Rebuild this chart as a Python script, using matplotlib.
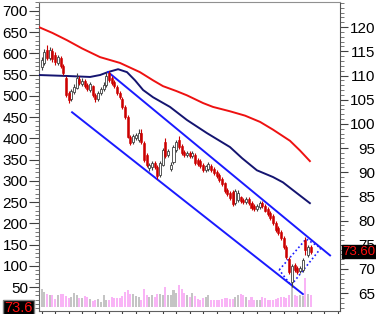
import matplotlib
matplotlib.use("Agg")
import matplotlib.pyplot as plt
import numpy as np
from matplotlib.ticker import MultipleLocator
import matplotlib.transforms as mtrans

plt.rcParams['font.family'] = ['Liberation Sans', 'DejaVu Sans']

# ---------------- data ----------------
opens = [111.7,112.6,115.2,113.6,115.0,114.2,112.6,113.6,112.0,109.5,
         106.4,105.1,106.6,107.4,109.2,108.2,108.8,108.0,107.0,107.8,
         106.0,105.1,106.4,107.2,108.0,110.5,109.4,108.6,107.6,106.4,
         105.1,103.5,101.4,97.3,96.2,97.0,96.6,98.1,96.0,93.5,
         90.8,91.0,91.9,91.0,89.4,91.5,96.2,93.5,90.6,92.1,
         94.6,96.6,95.4,94.2,93.5,94.0,93.3,93.5,92.5,92.3,
         91.5,90.4,90.6,91.3,90.6,90.0,89.4,88.6,87.7,86.3,
         85.7,85.9,83.6,84.2,84.8,84.2,83.8,84.4,83.6,83.0,
         82.4,82.8,83.6,83.0,82.4,81.5,80.9,79.5,78.4,77.6,
         76.4,74.5,72.0,67.3,70.8,70.2,69.5,69.8,76.0,72.8,74.5]
highs = [113.8,115.4,116.3,115.9,115.6,114.8,114.2,114.0,112.4,109.8,
         106.8,107.2,108.2,110.5,110.0,109.4,109.2,108.4,108.6,108.0,
         106.4,106.8,107.6,108.6,110.8,111.0,109.8,109.0,108.0,106.8,
         105.5,103.9,101.8,97.7,97.9,98.1,98.9,98.9,96.4,94.0,
         91.9,92.3,92.3,91.4,92.3,95.0,97.0,94.8,92.1,95.6,
         96.6,97.5,95.8,94.6,94.4,94.4,94.4,93.9,92.9,92.7,
         91.9,91.5,92.1,91.7,91.0,90.4,89.8,89.0,88.0,86.7,
         86.1,86.3,86.5,86.3,85.1,84.6,84.8,84.8,84.0,83.4,
         83.4,84.0,84.0,83.4,82.8,81.9,81.3,79.9,78.8,78.0,
         76.8,74.9,72.4,71.0,71.2,70.6,70.6,72.2,76.6,74.9,74.9]
lows = [111.2,112.2,113.2,113.2,112.8,112.2,112.2,111.5,110.1,105.5,
        104.3,104.7,106.2,107.2,108.0,107.8,107.4,106.8,106.6,105.5,
        104.5,104.7,106.0,106.8,107.6,108.6,108.0,107.4,106.0,105.1,
        103.1,101.0,97.0,95.6,95.8,96.6,96.2,95.8,92.1,91.0,
        90.2,90.4,90.6,88.6,89.0,91.2,92.9,93.1,90.2,91.7,
        94.2,94.8,93.5,93.1,93.1,92.9,92.9,91.5,91.3,90.8,
        90.0,90.0,90.2,90.0,89.4,88.8,88.0,87.1,85.7,85.1,
        84.2,83.0,83.2,83.8,83.6,83.4,83.4,83.2,82.2,82.0,
        82.0,82.4,82.6,81.7,80.9,80.1,79.1,77.6,77.0,76.0,
        74.1,72.0,68.9,66.2,69.4,68.9,69.1,69.4,72.8,72.4,73.0]
closes = [113.2,114.8,113.6,115.2,113.4,112.8,113.8,111.9,110.5,105.9,
          104.9,106.8,107.6,109.5,108.4,108.8,107.8,107.2,108.2,105.9,
          105.1,106.4,107.2,108.0,110.0,109.0,108.4,107.8,106.4,105.5,
          103.5,101.4,97.3,96.0,97.5,97.7,98.1,96.2,92.5,91.5,
          91.5,91.9,91.0,89.2,91.9,94.6,93.3,94.4,91.5,95.2,
          96.2,95.2,93.9,93.5,94.0,93.3,93.9,91.9,91.7,91.3,
          90.4,91.2,91.7,90.4,89.8,89.2,88.4,87.5,86.1,85.5,
          84.6,83.4,86.1,85.7,84.0,83.8,84.4,83.6,82.6,82.4,
          83.0,83.6,83.0,82.0,81.3,80.5,79.5,78.0,77.4,76.4,
          74.5,72.4,69.3,70.6,69.8,69.3,70.2,71.8,74.0,74.5,73.6]
volume = [18,15,13,12,12,8,12,13,13,11,
          9,10,14,12,9,9,11,10,8,6,
          7,8,5,12,7,7,10,9,9,9,
          11,15,17,13,13,11,10,7,18,12,
          10,12,10,13,13,12,20,12,12,17,
          14,22,18,14,12,10,14,11,8,7,
          9,10,12,7,7,7,7,8,9,9,
          8,8,10,12,13,12,10,7,10,7,
          7,7,10,9,7,7,7,8,9,10,
          10,9,12,24,12,11,12,11,29,13,12]

# moving averages (index, price) read at sample points
ma_long_x = [-1.0, 4.0, 9.4, 15.0, 21.7, 29.1, 36.5, 41.4, 45.1, 50.0,
             54.0, 60.0, 63.7, 70.0, 75.6, 81.2, 86.0, 92.3, 96.0, 99.7]
ma_long_y = [120.0, 118.8, 117.3, 115.6, 113.8, 112.6, 110.7, 109.0, 107.8, 106.8,
             105.9, 104.3, 103.5, 102.6, 101.7, 100.4, 98.8, 96.5, 94.5, 92.3]
ma_short_x = [-1.0, 9.4, 18.0, 21.7, 24.6, 28.4, 31.7, 34.7, 37.7, 41.4,
              47.7, 54.0, 61.4, 70.0, 74.5, 80.0, 86.0, 89.7, 93.4, 99.7]
ma_short_y = [110.1, 109.9, 109.7, 110.1, 110.7, 111.3, 110.7, 109.0, 107.0, 105.5,
              103.5, 100.8, 98.1, 95.2, 92.9, 90.4, 89.0, 87.9, 86.3, 83.6]

# trend channel lines (index, price)
chan_upper_x = [24.7, 107.2]
chan_upper_y = [110.7, 72.8]
chan_lower_x = [11.3, 97.1]
chan_lower_y = [102.4, 64.8]
small_chan_x = [88.3, 98.3, 103.8, 92.7, 88.3]
small_chan_y = [69.8, 76.2, 74.3, 66.6, 69.8]

right_ticks = [65, 70, 75, 80, 85, 90, 95, 100, 105, 110, 115, 120]
left_ticks = [50, 100, 150, 200, 250, 300, 350, 400, 450, 500, 550, 600, 650, 700]
last_price_label = "73.60"
left_tag_label = "73.6"

# ---------------- figure ----------------
W, H = 376, 314
fig = plt.figure(figsize=(W / 100, H / 100), dpi=100)
pos = [39 / W, 3 / H, 301 / W, 309 / H]
n = len(closes)
idx = np.arange(n)
xlim = (-1.0, 110.9)

# volume layer
axv = fig.add_axes(pos)
axv.set_xlim(*xlim)
axv.set_ylim(-4, 305)
axv.axis('off')
up = np.array(closes) >= np.array(opens)
vcol = ['#c4c4c4' if u else '#f9b4f6' for u in up]
axv.bar(idx, volume, width=0.75, color=vcol, linewidth=0)

# left scale axis
axl = fig.add_axes(pos)
axl.patch.set_alpha(0)
axl.set_xlim(*xlim)
axl.set_ylim(-6.5, 721)
axl.set_yticks(left_ticks)
axl.yaxis.set_minor_locator(MultipleLocator(10))
axl.tick_params(axis='y', which='major', direction='out', length=7, width=0.8,
                labelsize=11, pad=1, colors='#404040', labelcolor='black')
axl.tick_params(axis='y', which='minor', direction='out', length=3, width=0.6, colors='#606060')
axl.set_xticks(np.arange(0, 111, 5))
axl.tick_params(axis='x', which='major', direction='out', length=3, width=0.8,
                labelbottom=False, colors='#404040')
for s in ['top', 'right']:
    axl.spines[s].set_visible(False)
axl.spines['left'].set_color('#606060')
axl.spines['bottom'].set_color('#606060')

# price axis
ax = fig.add_axes(pos)
ax.patch.set_alpha(0)
ax.set_xlim(*xlim)
ax.set_ylim(61.3, 125.2)
ax.yaxis.tick_right()
ax.set_yticks(right_ticks)
ax.yaxis.set_minor_locator(MultipleLocator(1))
ax.tick_params(axis='y', which='major', direction='out', length=6, width=0.8,
               labelsize=11, pad=19.5, colors='#404040', labelcolor='black')
ax.tick_params(axis='y', which='minor', direction='out', length=3, width=0.6, colors='#606060')
for lab in ax.get_yticklabels():
    lab.set_horizontalalignment('right')
ax.set_xticks([])
ax.spines['left'].set_visible(False)
ax.spines['bottom'].set_visible(False)
ax.spines['top'].set_color('#909090')
ax.spines['right'].set_color('#505050')

# moving averages
ax.plot(ma_long_x, ma_long_y, color='#ee1111', lw=1.4, zorder=2)
ax.plot(ma_short_x, ma_short_y, color='#141470', lw=1.4, zorder=2)

# channels
ax.plot(chan_upper_x, chan_upper_y, color='#1a1aff', lw=1.4, zorder=2)
ax.plot(chan_lower_x, chan_lower_y, color='#1a1aff', lw=1.4, zorder=2)
ax.plot(small_chan_x, small_chan_y, color='#1a1aff', lw=1.2, ls=(0, (1, 1.5)), zorder=2)

# candles
o = np.array(opens); c = np.array(closes)
h = np.array(highs); l = np.array(lows)
wick_col = ['#404040' if u else '#cc0000' for u in up]
ax.vlines(idx, l, h, colors=wick_col, lw=0.8, zorder=3)
body_bottom = np.minimum(o, c)
body_h = np.maximum(np.abs(c - o), 0.15)
ax.bar(idx[up], body_h[up], bottom=body_bottom[up], width=0.75,
       facecolor='white', edgecolor='#404040', linewidth=0.6, zorder=4)
ax.bar(idx[~up], body_h[~up], bottom=body_bottom[~up], width=0.75,
       facecolor='#cc0000', edgecolor='#cc0000', linewidth=0.4, zorder=4)

# last price tag on the right (drawn over the axis labels, as in the original)
trans = mtrans.blended_transform_factory(ax.transAxes, ax.transData)
ax.text(1.009, closes[-1], last_price_label, transform=trans, color='#ff1010',
        fontsize=9.5, va='center', ha='left', clip_on=False, zorder=10,
        bbox=dict(facecolor='black', edgecolor='black', pad=0.6))

# left tag
fig.text(4 / W, 6 / H, left_tag_label, color='#ff1010', fontsize=10.5,
         va='center', ha='left',
         bbox=dict(facecolor='black', edgecolor='#808080', pad=1.0))

fig.savefig('out.png', dpi=100)
